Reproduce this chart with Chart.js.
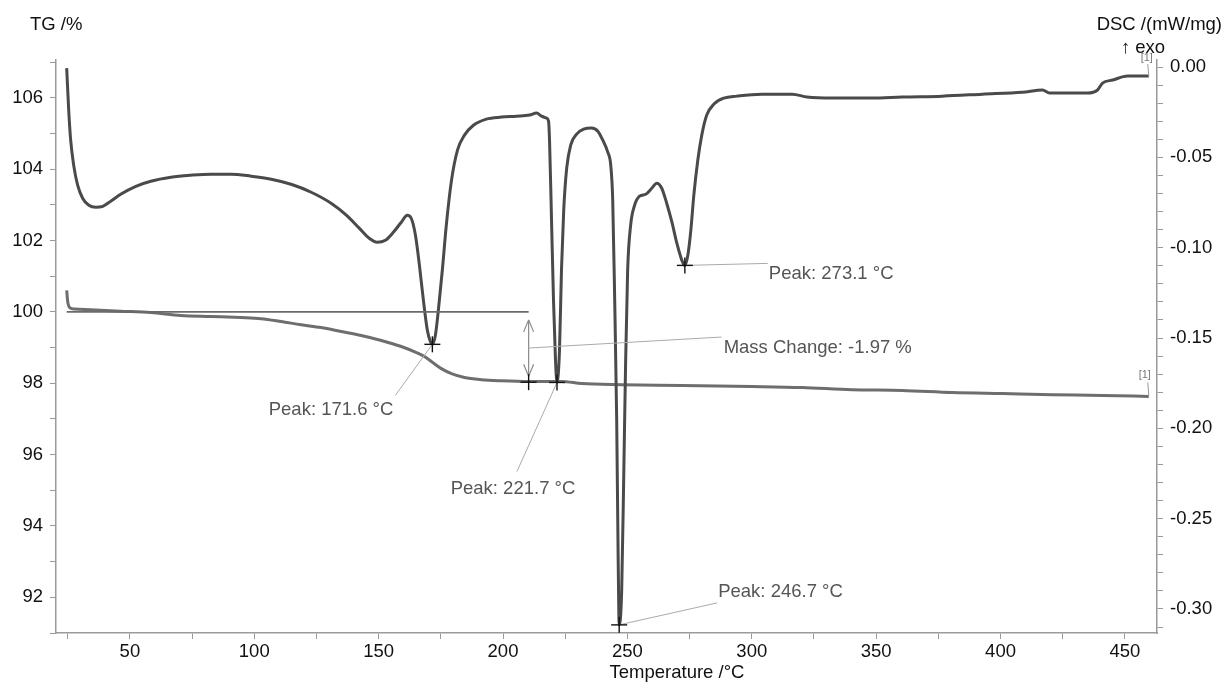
<!DOCTYPE html>
<html>
<head>
<meta charset="utf-8">
<script src="https://cdn.jsdelivr.net/npm/chart.js@4.4.1/dist/chart.umd.min.js"></script>
<style>
  html, body { margin: 0; padding: 0; background: #fff; }
  #wrap { width: 1226px; height: 684px; }
</style>
</head>
<body>
<div id="wrap"><canvas id="thermoChart" width="1226" height="684"></canvas></div>
<script>
// --- DSC curve (mW/mg) ---
const dscTemp = [24.6, 25.4, 26.2, 27.4, 29.0, 31.0, 33.5, 36.3, 39.1, 42.3, 46.3, 52.4, 58.4, 66.5, 74.5, 82.6, 90.6, 98.7,
  106.8, 114.8, 122.9, 130.9, 137.0, 142.2, 146.2, 149.4, 152.7, 155.9, 159.1, 161.5, 163.1, 164.8, 166.4, 168.0, 169.6,
  170.8, 171.6, 172.8, 174.0, 175.6, 177.2, 179.3, 181.7, 184.5, 188.1, 193.3, 199.4, 205.4, 210.7, 213.5, 215.5, 217.5,
  218.3, 218.7, 219.5, 220.3, 221.1, 221.7, 222.7, 223.5, 224.4, 225.6, 227.2, 229.6, 232.4, 235.6, 238.1, 240.1, 242.1,
  243.3, 244.1, 244.9, 245.7, 246.3, 246.7, 247.7, 248.5, 249.3, 250.1, 251.3, 252.9, 254.9, 257.4, 259.8, 261.8, 263.8,
  265.8, 267.9, 269.9, 271.9, 273.1, 274.3, 275.5, 276.7, 278.3, 279.9, 281.9, 284.8, 288.8, 294.0, 304.1, 316.2, 322.2,
  332.3, 348.4, 360.5, 376.6, 392.7, 408.8, 416.9, 419.7, 424.9, 435.0, 439.0, 441.0, 445.1, 451.1, 457.1, 459.6];
const dscValue = [-0.0006, -0.0238, -0.0405, -0.0543, -0.0654, -0.0726, -0.0765, -0.0776, -0.0771, -0.0743, -0.0704,
  -0.0660, -0.0632, -0.0610, -0.0599, -0.0593, -0.0593, -0.0604, -0.0621, -0.0649, -0.0693, -0.0754, -0.0820, -0.0892,
  -0.0948, -0.0970, -0.0959, -0.0915, -0.0859, -0.0820, -0.0837, -0.0931, -0.1098, -0.1292, -0.1458, -0.1519, -0.1535,
  -0.1486, -0.1347, -0.1125, -0.0876, -0.0626, -0.0460, -0.0377, -0.0322, -0.0288, -0.0277, -0.0272, -0.0266, -0.0255,
  -0.0272, -0.0283, -0.0299, -0.0405, -0.0848, -0.1292, -0.1624, -0.1746, -0.1569, -0.1125, -0.0793, -0.0560, -0.0432,
  -0.0371, -0.0344, -0.0338, -0.0355, -0.0405, -0.0471, -0.0543, -0.0737, -0.1292, -0.1957, -0.2733, -0.3088, -0.2899,
  -0.2289, -0.1624, -0.1125, -0.0876, -0.0765, -0.0715, -0.0704, -0.0671, -0.0643, -0.0671, -0.0754, -0.0859, -0.0976,
  -0.1070, -0.1098, -0.1042, -0.0904, -0.0710, -0.0516, -0.0377, -0.0266, -0.0205, -0.0172, -0.0161, -0.0150, -0.0150,
  -0.0166, -0.0172, -0.0172, -0.0166, -0.0161, -0.0150, -0.0139, -0.0127, -0.0144, -0.0144, -0.0144, -0.0127, -0.0089,
  -0.0072, -0.0050, -0.0050, -0.0050];

// --- TG curve (%) ---
const tgTemp = [24.6, 25.0, 25.8, 27.8, 34.2, 46.3, 58.4, 70.5, 82.6, 94.7, 102.7, 110.8, 118.8, 126.9, 135.0, 143.0,
  151.1, 159.1, 165.2, 168.4, 171.2, 175.2, 179.3, 184.5, 191.3, 199.4, 210.3, 223.6, 231.6, 247.7, 271.9, 300.1, 320.2,
  340.3, 360.5, 380.6, 400.8, 420.9, 441.0, 459.6];
const tgValue = [100.60, 100.29, 100.12, 100.08, 100.06, 100.02, 99.98, 99.90, 99.87, 99.84, 99.81, 99.73, 99.64, 99.56,
  99.45, 99.34, 99.20, 99.03, 98.86, 98.75, 98.61, 98.41, 98.27, 98.16, 98.10, 98.07, 98.05, 98.05, 97.99, 97.96, 97.94,
  97.91, 97.88, 97.82, 97.80, 97.74, 97.71, 97.68, 97.66, 97.63];

// --- axis ticks ---
const tempTicks = [25, 50, 75, 100, 125, 150, 175, 200, 225, 250, 275, 300, 325, 350, 375, 400, 425, 450];
const tgTicks = [91, 92, 93, 94, 95, 96, 97, 98, 99, 100, 101, 102, 103, 104, 105, 106, 107];
const dscTicks = [-0.31, -0.30, -0.29, -0.28, -0.27, -0.26, -0.25, -0.24, -0.23, -0.22, -0.21, -0.20, -0.19, -0.18, -0.17,
  -0.16, -0.15, -0.14, -0.13, -0.12, -0.11, -0.10, -0.09, -0.08, -0.07, -0.06, -0.05, -0.04, -0.03, -0.02, -0.01, 0.00];

// --- evaluation ---
const peakTemps = [171.6, 221.7, 246.7, 273.1];
const peakDsc = [-0.1535, -0.1746, -0.3088, -0.1098];
const massStartT = 24.6, massEndT = 210.3, massFrom = 100, massTo = 98.03, massChange = -1.97;

const FONT = '"Liberation Sans", Arial, Helvetica, sans-serif';
Chart.defaults.font.family = FONT;
Chart.defaults.font.size = 18.5;
Chart.defaults.color = '#111';

const AXIS = '#9a9a9a';

// annotation layer: peaks, mass change step, axis titles
const thermoAnnotations = {
    id: 'thermoAnnotations',
    afterDatasetsDraw(chart) {
        const { ctx, scales } = chart;
        const x = scales.x, yL = scales.yL, yR = scales.yR;
        ctx.save();

        const line = (x1, y1, x2, y2, color, w) => {
            ctx.strokeStyle = color; ctx.lineWidth = w;
            ctx.beginPath(); ctx.moveTo(x1, y1); ctx.lineTo(x2, y2); ctx.stroke();
        };
        const cross = (px, py) => {
            line(px - 8, py, px + 8, py, '#111', 1.4);
            line(px, py - 8, px, py + 8, '#111', 1.4);
        };
        const text = (s, px, py, align, color) => {
            ctx.fillStyle = color; ctx.textAlign = align; ctx.textBaseline = 'middle';
            ctx.font = '18.5px ' + FONT;
            ctx.fillText(s, px, py);
        };

        // mass change baseline + double arrow
        const bx0 = x.getPixelForValue(massStartT), bx1 = x.getPixelForValue(massEndT);
        const by0 = yL.getPixelForValue(massFrom), by1 = yL.getPixelForValue(massTo);
        line(bx0, by0, bx1, by0, '#6a6a6a', 1.6);
        const a0 = by0 + 8, a1 = by1 - 6;
        line(bx1, a0, bx1, a1, '#8a8a8a', 1.2);
        line(bx1 - 5, a0 + 12, bx1, a0, '#8a8a8a', 1.2);
        line(bx1 + 5, a0 + 12, bx1, a0, '#8a8a8a', 1.2);
        line(bx1 - 5, a1 - 12, bx1, a1, '#8a8a8a', 1.2);
        line(bx1 + 5, a1 - 12, bx1, a1, '#8a8a8a', 1.2);
        cross(bx1, by1);
        const midY = (a0 + a1) / 2;
        line(bx1, midY, bx1 + 193, midY - 11, '#aaa', 1);
        text('Mass Change: ' + massChange.toFixed(2) + ' %', bx1 + 195, midY, 'left', '#555');

        // peak markers with leader lines: [dx, dy] end of leader, text anchor
        const leaders = [
            { end: [-37, 51], txt: [-39, 66], align: 'right' },
            { end: [-40, 89], txt: [-44, 106], align: 'center' },
            { end: [98, -22], txt: [99, -33], align: 'left' },
            { end: [83, -2], txt: [84, 9], align: 'left' }
        ];
        peakTemps.forEach((t, i) => {
            const px = x.getPixelForValue(t), py = yR.getPixelForValue(peakDsc[i]);
            const l = leaders[i];
            line(px, py, px + l.end[0], py + l.end[1], '#aaa', 1);
            cross(px, py);
            text('Peak: ' + t.toFixed(1) + ' °C', px + l.txt[0], py + l.txt[1], l.align, '#555');
        });

        // curve tags [1]
        ctx.font = '11px ' + FONT;
        ctx.fillStyle = '#777'; ctx.textAlign = 'center'; ctx.textBaseline = 'middle';
        const dEndX = x.getPixelForValue(dscTemp[dscTemp.length - 1]);
        const dEndY = yR.getPixelForValue(dscValue[dscValue.length - 1]);
        ctx.fillText('[1]', dEndX - 2, dEndY - 18);
        line(dEndX - 1, dEndY - 12, dEndX, dEndY, '#999', 1);
        const tEndX = x.getPixelForValue(tgTemp[tgTemp.length - 1]);
        const tEndY = yL.getPixelForValue(tgValue[tgValue.length - 1]);
        ctx.font = '11px ' + FONT;
        ctx.fillStyle = '#777';
        ctx.fillText('[1]', tEndX - 4, tEndY - 21);
        line(tEndX - 1, tEndY - 14, tEndX, tEndY - 1, '#999', 1);

        // axis titles
        const area = chart.chartArea;
        text('TG /%', 30, 25, 'left', '#111');
        text('DSC /(mW/mg)', 1222, 25, 'right', '#111');
        text('\u2191 exo', area.right - 14, 48, 'center', '#111');
        text('Temperature /°C', 677, 673, 'center', '#111');

        ctx.restore();
    }
};

const setTicks = (values) => (scale) => {
    scale.ticks = values.map(v => ({ value: v }));
};

new Chart(document.getElementById('thermoChart').getContext('2d'), {
    type: 'line',
    data: {
        datasets: [
            {
                label: 'DSC',
                data: dscTemp.map((t, i) => ({ x: t, y: dscValue[i] })),
                yAxisID: 'yR',
                borderColor: '#4a4a4a',
                borderWidth: 3,
                pointRadius: 0,
                cubicInterpolationMode: 'monotone'
            },
            {
                label: 'TG',
                data: tgTemp.map((t, i) => ({ x: t, y: tgValue[i] })),
                yAxisID: 'yL',
                borderColor: '#6e6e6e',
                borderWidth: 3,
                pointRadius: 0,
                cubicInterpolationMode: 'monotone'
            }
        ]
    },
    options: {
        responsive: false,
        animation: false,
        devicePixelRatio: 1,
        layout: { padding: { top: 60, left: 0, right: 0, bottom: 0 } },
        plugins: { legend: { display: false }, tooltip: { enabled: false } },
        scales: {
            x: {
                type: 'linear',
                min: 20.3,
                max: 462.9,
                afterBuildTicks: setTicks(tempTicks),
                afterFit: (s) => { s.height = 51; },
                border: { color: AXIS, width: 1.5 },
                grid: { drawOnChartArea: false, drawTicks: true, tickLength: 6, color: AXIS },
                ticks: {
                    autoSkip: false, maxRotation: 0, padding: 2,
                    callback: (v) => (v % 50 === 0 ? String(v) : '')
                }
            },
            yL: {
                type: 'linear',
                position: 'left',
                min: 91.0,
                max: 107.06,
                afterBuildTicks: setTicks(tgTicks),
                afterFit: (s) => { s.width = 56; },
                border: { color: AXIS, width: 1.5 },
                grid: { drawOnChartArea: false, drawTicks: true, tickLength: 6, color: AXIS },
                ticks: {
                    autoSkip: false, padding: 7,
                    callback: (v) => (v % 2 === 0 ? String(v) : '')
                }
            },
            yR: {
                type: 'linear',
                position: 'right',
                min: -0.3133,
                max: 0.0039,
                afterBuildTicks: setTicks(dscTicks),
                afterFit: (s) => { s.width = 69; },
                border: { color: AXIS, width: 1.5 },
                grid: { drawOnChartArea: false, drawTicks: true, tickLength: 6, color: AXIS },
                ticks: {
                    autoSkip: false, padding: 7,
                    callback: (v) => (Math.round(v * 100) % 5 === 0 ? v.toFixed(2) : '')
                }
            }
        }
    },
    plugins: [thermoAnnotations]
});
</script>
</body>
</html>
